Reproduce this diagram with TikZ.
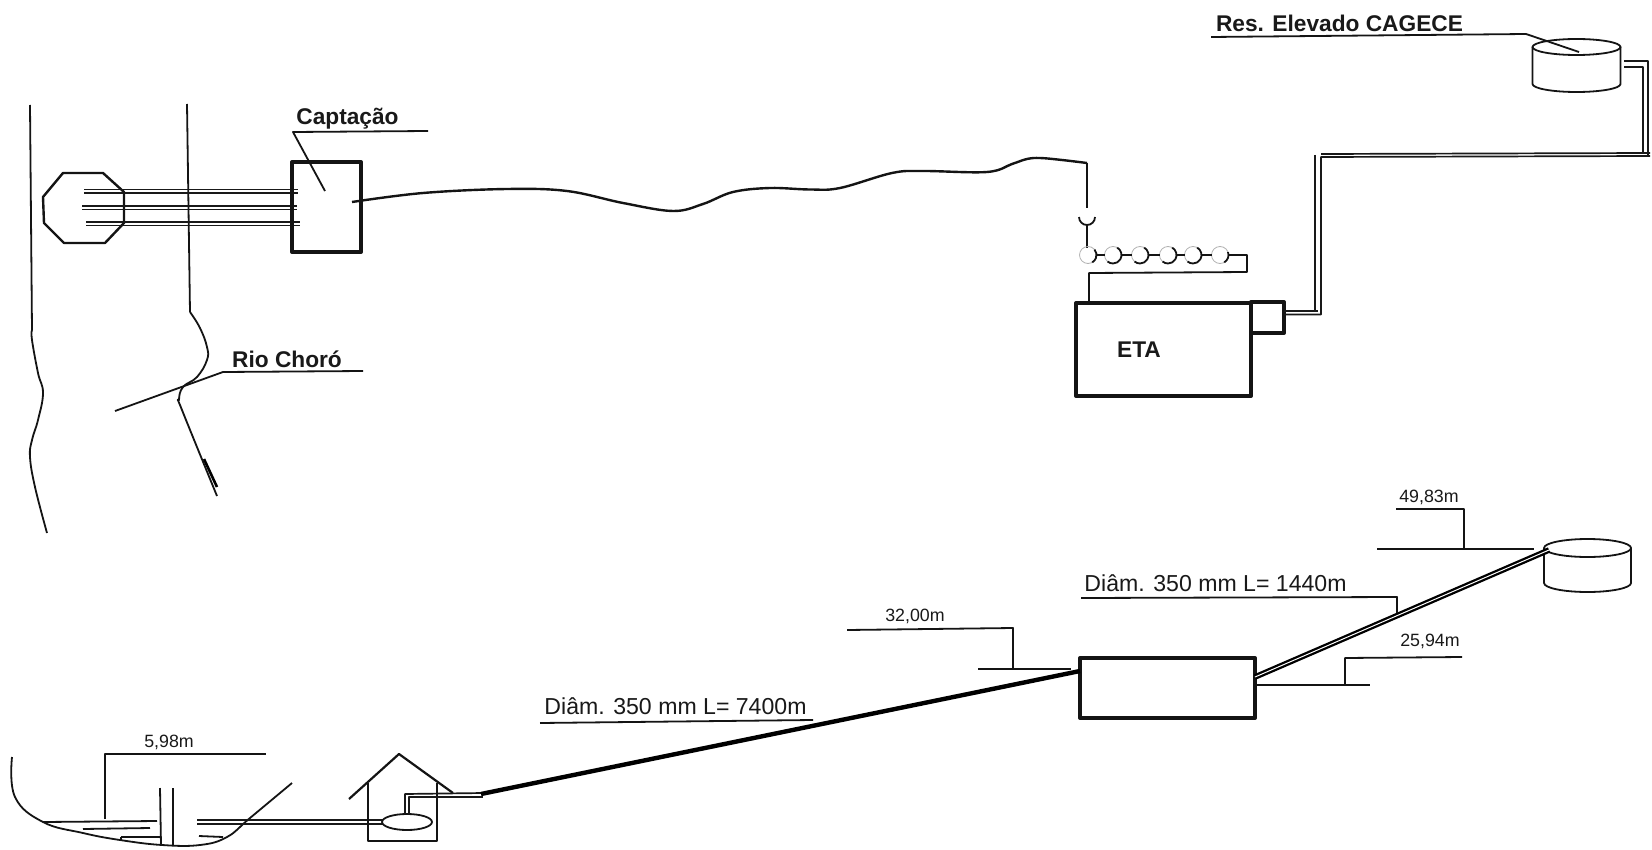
\documentclass[tikz,border=0pt]{standalone}
\usepackage{fontspec}
\setmainfont{Liberation Sans}
\begin{document}
\begin{tikzpicture}[x=0.5pt,y=-0.5pt,line join=round,
  medline/.style={draw=black!92,line width=0.9pt},
  heavy/.style={draw=black!92,line width=2pt},
  pipeline/.style={draw=black!90,line width=0.85pt},
  boldlabel/.style={inner sep=0,font=\fontsize{11.35}{13}\selectfont\bfseries,text=black!90},
  dimlabel/.style={inner sep=0,font=\fontsize{11.55}{13}\selectfont,text=black!90},
  levellabel/.style={inner sep=0,font=\fontsize{8.9}{10}\selectfont,text=black!90}]
\useasboundingbox (0,0) rectangle (1652,850);
\fill[white] (0,0) rectangle (1652,850);

% --- plan view: river
\draw[medline] (30,105) -- (32,330) plot[smooth,tension=0.7] coordinates {(32,330) (32,340) (38,373) (43,393) (38,420) (32,440) (30,457) (35,487) (47,533)};
\draw[medline] (187,104) -- (190,312);
\draw[medline] plot[smooth,tension=0.7] coordinates {(190,312) (200,328) (207,347) (207,360) (197,377) (183,387) (179,400) (182,410) (217,496)};
\draw[line width=1.3pt] (204,459) -- (217,487);

% --- intake
\draw[medline,line width=1.2pt] (43,197) -- (63,173) -- (103,173) -- (124,192) -- (124,223) -- (105,243) -- (64,243) -- (44,223) -- cycle;
\foreach \xa/\xb/\ya/\yb in {84/298/189.5/193, 82/297/206/209.5, 86/300/222/225.5}{
  \draw[pipeline] (\xa,\ya) -- (\xb,\ya);
  \draw[pipeline] (\xa,\yb) -- (\xb,\yb);
}
\node[heavy,draw,inner sep=0,outer sep=0,minimum width=34.5pt,minimum height=45pt] (capt) at (326.5,207) {};
\coordinate (captL0) at (325,191);
\coordinate (captL1) at (293,132);
\coordinate (captL2) at (428,131);
\draw[medline] (captL0) -- (captL1) -- (captL2);
\node[boldlabel] (captlabel) at (347.5,119) {Captação};

\coordinate (rioL0) at (115,411);
\coordinate (rioL1) at (223,372);
\coordinate (rioL2) at (363,371);
\draw[medline] (rioL0) -- (rioL1) -- (rioL2);
\node[boldlabel] (riolabel) at (287,359) {Rio Choró};

% --- raw water main, plan
\coordinate (mainend) at (1087,163);
\draw[medline,line width=1.2pt] plot[smooth,tension=0.6] coordinates {(352,202) (423,193) (507,189) (567,191) (623,203) (673,211) (703,204) (733,192) (770,188) (810,189.5) (840,188) (892,173) (923,171) (987,172) (1012,164) (1027,159) (1040,158) (1062,160) (1087,163)};

% --- flocculators
\draw[medline] (mainend) -- (1087,208);
\draw[medline] (1079,217) arc[start angle=180,end angle=0,x radius=8,y radius=8];
\draw[medline] (1087,225) -- (1087,248);
\foreach \n/\cx/\sa/\ea in {1/1088/-40/60,2/1113/-60/130,3/1140/-60/130,4/1168/-60/130,5/1193/-60/130,6/1220/-20/60}{
  \coordinate (fl\n) at (\cx,255);
  \draw[draw=black!30,line width=0.4pt] (fl\n) circle[radius=8.5];
  \draw[medline] (fl\n) ++(\sa:8.5) arc[start angle=\sa,end angle=\ea,x radius=8.5,y radius=8.5];
}
\draw[medline] ([xshift=4.2pt]fl1) -- ([xshift=-4.2pt]fl2);
\draw[medline] ([xshift=4.2pt]fl2) -- ([xshift=-4.2pt]fl3);
\draw[medline] ([xshift=4.2pt]fl3) -- ([xshift=-4.2pt]fl4);
\draw[medline] ([xshift=4.2pt]fl4) -- ([xshift=-4.2pt]fl5);
\draw[medline] ([xshift=4.2pt]fl5) -- ([xshift=-4.2pt]fl6);
\draw[medline] ([xshift=4.2pt]fl6) -- (1247,255) -- (1247,272) -- (1089,273) -- (1089,303);

% --- ETA
\node[heavy,draw,inner sep=0,outer sep=0,minimum width=87.5pt,minimum height=46.5pt] (eta) at (1163.5,349.5) {};
\node[boldlabel] (etalabel) at (1139,350) {ETA};
\node[heavy,draw,inner sep=0,outer sep=0,minimum width=16.5pt,minimum height=15.5pt] (etasmall) at (1267.5,317.5) {};

\draw[pipeline] (etasmall.east |- 0,311) -- (1318,311);
\draw[pipeline] (1315,155) -- (1315,312);
\draw[pipeline] (etasmall.east |- 0,314.5) -- (1321,314.5) -- (1321,157) -- (1650,156);
\draw[pipeline] (1321,154) -- (1650,153);
\draw[pipeline] (1643,154) -- (1643,67) -- (1624,67);
\draw[pipeline] (1648,156) -- (1648,61) -- (1624,61);

% --- upper reservoir
\coordinate (resA) at (1576.5,47);
\draw[medline] (resA) ellipse[x radius=44,y radius=8];
\draw[medline] (1532.5,47) -- (1532.5,84) arc[start angle=180,end angle=0,x radius=44,y radius=8] -- (1620.5,47);
\coordinate (resL0) at (1579,52);
\coordinate (resL1) at (1526,34);
\coordinate (resL2) at (1211,37);
\draw[medline] (resL0) -- (resL1) -- (resL2);
\node[boldlabel] (reslabel) at (1339.5,23) {Res. Elevado CAGECE};

% --- profile: river section
\draw[medline] plot[smooth,tension=0.7] coordinates {(12,757) (15,797) (43,822) (83,833) (120,840) (162,845) (200,845) (227,837) (250,818) (292,783)};
\draw[medline] (43,822) -- (157,821);
\draw[medline] (83,829) -- (150,828);
\draw[medline] (121,837) -- (160,837);
\draw[medline] (121,837) -- (121,840);
\draw[medline] (199,836) -- (223,837);
\draw[medline] (160,788) -- (161,845);
\draw[medline] (173,788) -- (173,845);
\draw[medline] (105,819) -- (105,754) -- (266,754);
\node[levellabel] (l598) at (169,742) {5,98m};
\draw[pipeline] (197,820) -- (383,820);
\draw[pipeline] (197,824) -- (383,824);

% --- pump house
\draw[medline,line width=1.1pt] (349,799) -- (399,754) -- (453,793);
\draw[medline] (368,783) -- (368,841) -- (437,841) -- (437,783);
\coordinate (pump) at (407,822);
\draw[medline] (pump) ellipse[x radius=25,y radius=8];
\draw[pipeline] (405,814) -- (405,794) -- (483,793);
\draw[pipeline] (409,814) -- (409,797) -- (483,797);

% --- treatment plant, profile
\node[heavy,draw,inner sep=0,outer sep=0,minimum width=87.5pt,minimum height=30pt] (plant) at (1167.5,688) {};
\coordinate (riserstart) at (481,794);
\coordinate (riserend) at (plant.west |- 0,671);
\draw[draw=black,line width=2.2pt] (riserstart) -- (riserend);
\draw[medline] (540,723) -- (813,720);
\node[dimlabel] (d7400) at (675.5,706) {Diâm. 350 mm L= 7400m};
\draw[medline] (847,630) -- (1013,628) -- (1013,669);
\draw[medline] (978,669) -- (1071,669);
\node[levellabel] (l3200) at (915,616) {32,00m};

% --- lower reservoir and pipe
\coordinate (resB) at (1587.5,548);
\draw[medline] (resB) ellipse[x radius=43.5,y radius=9];
\draw[medline] (1544,548) -- (1544,583) arc[start angle=180,end angle=0,x radius=43.5,y radius=9] -- (1631,548);
\coordinate (pipeA) at (plant.east |- 0,677);
\coordinate (pipeB) at (1549,550);
\draw[draw=black,line width=2.8pt] (pipeA) -- (pipeB);
\draw[draw=white,line width=0.5pt] (pipeA) -- (pipeB);
\draw[medline] (1081,598) -- (1397,597) -- (1397,613);
\node[dimlabel] (d1440) at (1215.5,583) {Diâm. 350 mm L= 1440m};
\draw[medline] (1396,509) -- (1464,509) -- (1464,549);
\draw[medline] (1377,549) -- (1534,549);
\node[levellabel] (l4983) at (1429,497) {49,83m};
\draw[medline] (1462,657) -- (1345,658) -- (1345,685);
\draw[medline] (plant.east |- 0,685) -- (1370,685);
\node[levellabel] (l2594) at (1430,641) {25,94m};
\end{tikzpicture}
\end{document}
